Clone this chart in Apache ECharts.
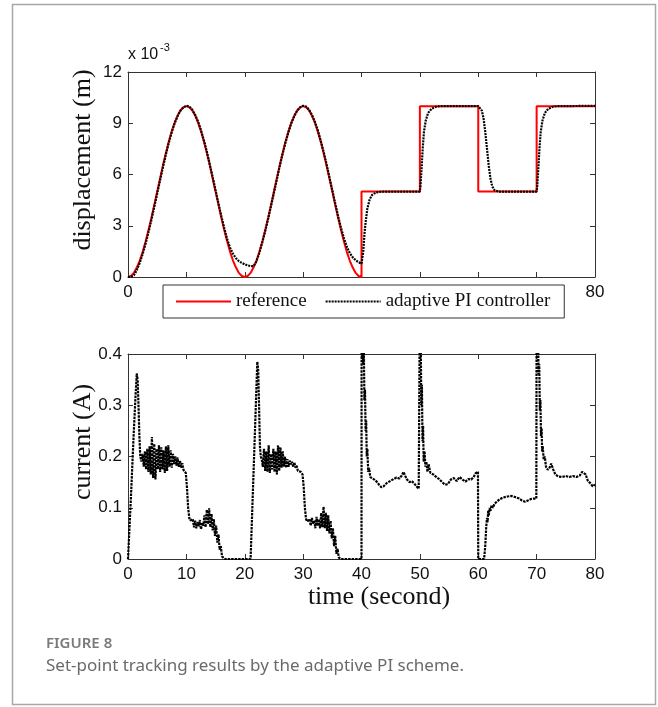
<!DOCTYPE html>
<html><head><meta charset="utf-8">
<script src="https://cdn.jsdelivr.net/npm/echarts@6/dist/echarts.min.js"></script>
<style>html,body{margin:0;padding:0;background:#fff}#c{width:658px;height:707px}</style>
</head><body><div id="c"></div>
<script>
// ---------------- data ----------------
const xTickLabels = [0, 80];               // top chart: only visible labels
const yTopTicks = [0, 3, 6, 9, 12];        // displacement x 10^-3
const yBotTicks = [0, 0.1, 0.2, 0.3, 0.4]; // current (A)

// reference sinusoid cycle (0..20 s, 0.5 s step), x10^-3 m
const SINE_STEP = 0.5;
const refCycle = [0,0.06,0.24,0.55,0.95,1.46,2.06,2.73,3.45,4.22,5,5.78,6.55,7.27,7.94,8.54,9.05,9.45,9.76,9.94,10,
  9.94,9.76,9.45,9.05,8.54,7.94,7.27,6.55,5.78,5,4.22,3.45,2.73,2.06,1.46,0.95,0.55,0.24,0.06,0];
// reference steps after 40 s [t, value]
const refSteps = [[40,0],[40,5],[50,5],[50,10],[60,10],[60,5],[70,5],[70,10],[80,10]];

// adaptive PI controller displacement 0..40 s (0.5 s step)
const ctrlSine = [0,0.01,0.1,0.4,0.82,1.33,1.93,2.6,3.33,4.1,
  4.88,5.67,6.45,7.18,7.87,8.48,9.0,9.42,9.74,9.93,
  10.02,9.98,9.8,9.5,9.1,8.6,8.0,7.34,6.62,5.85,
  5.08,4.3,3.55,2.85,2.2,1.7,1.35,1.1,0.93,0.82,
  0.74,0.68,0.64,0.64,0.92,1.42,2.02,2.68,3.4,4.15,
  4.93,5.72,6.5,7.22,7.9,8.5,9.02,9.43,9.75,9.93,
  10.02,9.98,9.8,9.5,9.1,8.6,8.0,7.34,6.62,5.85,
  5.08,4.3,3.55,2.87,2.25,1.75,1.4,1.15,0.98,0.87,
  0.78];
// controller after 40 s [t, value]
const ctrlSteps = [[40.1,0.76],[40.3,1.5],[40.5,2.5],[40.7,3.2],[41,4.0],[41.4,4.55],[41.8,4.8],[42.5,4.95],[43.5,5],[50,5],
  [50.1,5.3],[50.3,6.4],[50.5,7.6],[50.7,8.5],[51,9.15],[51.4,9.6],[52,9.85],[52.8,9.97],[53.5,10],[60,10],
  [60.3,9.95],[60.6,9.75],[60.9,9.3],[61.2,8.5],[61.5,7.5],[61.8,6.5],[62.1,5.75],[62.4,5.3],[62.8,5.08],[63.5,5],[70,5],
  [70.1,5.3],[70.3,6.4],[70.5,7.6],[70.7,8.5],[71,9.15],[71.4,9.6],[72,9.85],[72.8,9.97],[73.5,10],[80,10.02]];

// current (A)
const curStart = [[0,0],[0.5,0.12],[1.0,0.25],[1.3,0.32],[1.5,0.362],[1.65,0.35],[1.8,0.3],[1.95,0.24],[2.1,0.2]];
const NOISE_STEP = 0.2;
const curNoise1 = {t0: 2.3, v: [0.19,0.205,0.18,0.21,0.175,0.215,0.17,0.22,0.165,0.238,0.158,0.225,0.155,0.215,0.175,0.222,0.17,0.218,0.175,0.212,0.168,0.22,0.172,0.222,0.18,0.212,0.178,0.205,0.185,0.2,0.182,0.198,0.18,0.192,0.178,0.187,0.174]};
const curDrop1 = [[9.7,0.172],[9.9,0.168],[10.1,0.14],[10.3,0.1],[10.5,0.08],[10.7,0.075]];
const curNoise2 = {t0: 10.9, v: [0.072,0.078,0.062,0.075,0.06,0.072,0.064,0.076,0.058,0.07,0.065,0.085,0.062,0.096,0.068,0.099,0.062,0.088,0.056,0.078,0.045,0.065,0.032,0.048,0.018,0.025,0.005,0.004]};
const curRise2 = [[16.6,0],[21.0,0],[21.3,0.1],[21.6,0.2],[21.9,0.3],[22.15,0.385],[22.3,0.37],[22.45,0.3],[22.6,0.22],[22.75,0.2]];
const curNoise3 = {t0: 22.9, v: [0.195,0.18,0.215,0.172,0.21,0.17,0.222,0.168,0.205,0.175,0.215,0.17,0.21,0.165,0.222,0.172,0.218,0.178,0.21,0.18,0.2,0.178,0.195,0.18,0.192,0.185,0.19,0.18,0.188,0.178,0.182,0.172,0.175]};
const curDrop2 = [[29.6,0.17],[29.9,0.165],[30.1,0.14],[30.3,0.1],[30.5,0.078],[30.7,0.073]];
const curNoise4 = {t0: 30.9, v: [0.07,0.078,0.065,0.08,0.068,0.075,0.06,0.082,0.065,0.078,0.06,0.09,0.062,0.102,0.06,0.09,0.055,0.085,0.05,0.075,0.04,0.06,0.025,0.045,0.01,0.02,0.003,0.005,0,0]};
const curStep40 = [[37.0,0],[40.0,0],[40.02,0.5],[40.2,0.46],[40.3,0.38],[40.4,0.41],[40.5,0.31],[40.6,0.33],[40.7,0.25],[40.8,0.27],[40.9,0.2],[41.0,0.215],[41.15,0.17],[41.3,0.178],[41.5,0.16],[41.8,0.162],[42.2,0.155],[42.6,0.151],[43.0,0.145],[43.4,0.14],[43.8,0.142],[44.3,0.148],[44.9,0.152],[45.5,0.156],[46.0,0.159],[46.5,0.157],[46.9,0.163],[47.2,0.17],[47.5,0.162],[47.8,0.155],[48.2,0.15],[48.6,0.152],[49.0,0.148],[49.4,0.142],[49.8,0.137],[49.95,0.135]];
const curStep50 = [[50.0,0.5],[50.15,0.42],[50.25,0.3],[50.35,0.34],[50.45,0.23],[50.55,0.26],[50.65,0.19],[50.8,0.21],[50.95,0.18],[51.1,0.19],[51.3,0.17],[51.5,0.185],[51.8,0.168],[52.3,0.165],[52.8,0.16],[53.3,0.156],[53.8,0.15],[54.3,0.145],[54.8,0.146],[55.3,0.155],[55.8,0.158],[56.3,0.152],[56.8,0.16],[57.3,0.155],[57.8,0.151],[58.3,0.156],[58.8,0.155],[59.2,0.16],[59.6,0.168],[59.95,0.17],[60.0,0]];
const curStep60 = [[61.0,0],[61.2,0.025],[61.35,0.06],[61.5,0.08],[61.6,0.072],[61.7,0.094],[61.8,0.085],[61.95,0.1],[62.1,0.094],[62.3,0.105],[62.5,0.1],[62.8,0.108],[63.2,0.112],[63.7,0.117],[64.3,0.12],[65.0,0.122],[65.7,0.123],[66.3,0.121],[67.0,0.118],[67.5,0.114],[68.0,0.112],[68.5,0.114],[69.0,0.117],[69.5,0.118],[69.95,0.118]];
const curStep70 = [[70.0,0.5],[70.2,0.45],[70.35,0.36],[70.45,0.38],[70.55,0.29],[70.65,0.31],[70.75,0.24],[70.85,0.255],[70.95,0.21],[71.05,0.22],[71.2,0.195],[71.4,0.2],[71.6,0.18],[71.9,0.174],[72.2,0.178],[72.5,0.186],[72.8,0.176],[73.2,0.165],[73.7,0.161],[74.3,0.16],[75.0,0.162],[75.6,0.16],[76.2,0.162],[76.8,0.16],[77.4,0.163],[77.8,0.17],[78.1,0.172],[78.4,0.165],[78.8,0.152],[79.2,0.148],[79.6,0.142],[80.0,0.145]];

// ---------------- build ----------------
const seq = (t0, step, vals) => vals.map((v, i) => [+(t0 + i * step).toFixed(3), v]);
const refData = seq(0, SINE_STEP, refCycle).concat(seq(20, SINE_STEP, refCycle).slice(1), refSteps);
const ctrlData = seq(0, SINE_STEP, ctrlSine).concat(ctrlSteps);
const curData = [].concat(curStart, seq(curNoise1.t0, NOISE_STEP, curNoise1.v), curDrop1,
  seq(curNoise2.t0, NOISE_STEP, curNoise2.v), curRise2, seq(curNoise3.t0, NOISE_STEP, curNoise3.v), curDrop2,
  seq(curNoise4.t0, NOISE_STEP, curNoise4.v), curStep40, curStep50, curStep60, curStep70);

const SANS = '"Liberation Sans", Arial, sans-serif';
const SERIF = '"Liberation Serif", "Times New Roman", serif';
const AX = '#333';
const axisLine = {show: true, onZero: false, lineStyle: {color: AX, width: 1}};
const tick = {show: true, inside: true, length: 5, lineStyle: {color: AX}};
const lbl = {fontFamily: SANS, fontSize: 17, color: '#111'};

function xAxes(gi, formatter) {
  return [
    {gridIndex: gi, type: 'value', min: 0, max: 80, interval: 10, position: 'bottom', axisLine, axisTick: tick,
     splitLine: {show: false}, axisLabel: Object.assign({margin: 7, formatter, showMinLabel: true, showMaxLabel: true}, lbl)},
    {gridIndex: gi, type: 'value', min: 0, max: 80, interval: 10, position: 'top', axisLine, axisTick: tick,
     splitLine: {show: false}, axisLabel: {show: false}}
  ];
}
function yAxes(gi, max, interval, formatter) {
  return [
    {gridIndex: gi, type: 'value', min: 0, max, interval, position: 'left', axisLine, axisTick: tick,
     splitLine: {show: false}, axisLabel: Object.assign({margin: 6, formatter}, lbl)},
    {gridIndex: gi, type: 'value', min: 0, max, interval, position: 'right', axisLine, axisTick: tick,
     splitLine: {show: false}, axisLabel: {show: false}}
  ];
}

const option = {
  animation: false,
  backgroundColor: '#fff',
  grid: [
    {left: 128, top: 72, width: 467, height: 205},
    {left: 128, top: 354, width: 467, height: 205}
  ],
  xAxis: [].concat(
    xAxes(0, v => xTickLabels.includes(v) ? String(v) : ''),
    xAxes(1, v => String(v))
  ),
  yAxis: [].concat(
    yAxes(0, 12, 3, v => yTopTicks.includes(v) ? String(v) : ''),
    yAxes(1, 0.4, 0.1, v => v === 0 ? '0' : (yBotTicks.some(t => Math.abs(t - v) < 1e-9) ? v.toFixed(1) : ''))
  ),
  legend: {
    left: 163, top: 285, orient: 'horizontal',
    itemWidth: 55, itemHeight: 12, itemGap: 18,
    padding: [7, 14, 7, 12],
    borderColor: '#333', borderWidth: 1, backgroundColor: '#fff',
    itemStyle: {opacity: 0},
    textStyle: {fontFamily: SERIF, fontSize: 19, color: '#111'},
    data: ['reference', 'adaptive PI controller']
  },
  series: [
    {name: 'reference', type: 'line', xAxisIndex: 0, yAxisIndex: 0, data: refData, symbol: 'none',
     lineStyle: {color: '#ff0000', width: 2}, itemStyle: {color: '#ff0000'}, z: 2},
    {name: 'adaptive PI controller', type: 'line', xAxisIndex: 0, yAxisIndex: 0, data: ctrlData, symbol: 'none',
     lineStyle: {color: '#000', width: 2.2, type: [2, 1]}, itemStyle: {color: '#000'}, z: 3},
    {name: 'current', type: 'line', xAxisIndex: 2, yAxisIndex: 2, data: curData, symbol: 'none', sampling: null,
     lineStyle: {color: '#000', width: 2.2, type: [2.5, 1]}, itemStyle: {color: '#000'}, z: 3}
  ],
  graphic: [
    {type: 'rect', shape: {x: 12.5, y: 4.5, width: 643, height: 700}, style: {fill: 'none', stroke: '#a8a8a8', lineWidth: 1.5}, z: -10},
    {type: 'text', x: 128, y: 63, style: {text: 'x 10', font: '16px ' + SANS, fill: '#111', textAlign: 'left', textVerticalAlign: 'bottom'}},
    {type: 'text', x: 160, y: 53, style: {text: '-3', font: '11px ' + SANS, fill: '#111', textAlign: 'left', textVerticalAlign: 'bottom'}},
    {type: 'text', x: 83, y: 160, rotation: Math.PI / 2, style: {text: 'displacement (m)', font: '26px ' + SERIF, fill: '#111', textAlign: 'center', textVerticalAlign: 'middle'}},
    {type: 'text', x: 83, y: 442, rotation: Math.PI / 2, style: {text: 'current (A)', font: '26px ' + SERIF, fill: '#111', textAlign: 'center', textVerticalAlign: 'middle'}},
    {type: 'text', x: 379, y: 597, style: {text: 'time (second)', font: '26px ' + SERIF, fill: '#111', textAlign: 'center', textVerticalAlign: 'middle'}},
    {type: 'text', x: 46, y: 651, style: {text: 'FIGURE 8', font: '600 15px "Noto Sans", sans-serif', fill: '#7a7a7a', textAlign: 'left', textVerticalAlign: 'bottom'}},
    {type: 'text', x: 46, y: 675, style: {text: 'Set-point tracking results by the adaptive PI scheme.', font: '17px "Noto Sans", sans-serif', fill: '#6a6a6a', textAlign: 'left', textVerticalAlign: 'bottom'}}
  ]
};
const chart = echarts.init(document.getElementById('c'), null, {renderer: 'canvas'});
chart.setOption(option);
</script>
</body></html>
